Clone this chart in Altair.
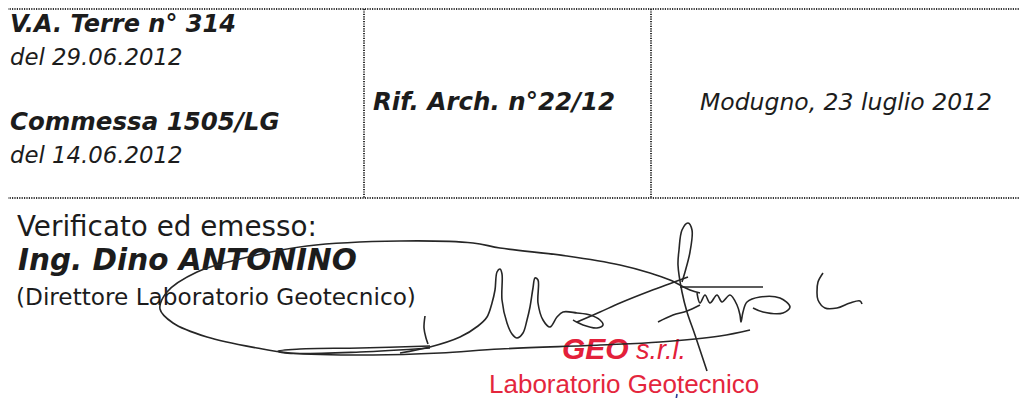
import altair as alt
import pandas as pd

# ---- text content -------------------------------------------------------
texts = [
    "V.A. Terre n° 314",
    "del 29.06.2012",
    "Commessa 1505/LG",
    "del 14.06.2012",
    "Rif. Arch. n°22/12",
    "Modugno, 23 luglio 2012",
    "Verificato ed emesso:",
    "Ing. Dino ANTONINO",
    "(Direttore Laboratorio Geotecnico)",
    "GEO",
    "s.r.l.",
    "Laboratorio Geotecnico",
]
# layout (page pixel positions: left edge, baseline)
text_x = [10, 10, 10, 10, 373, 700, 17, 18, 16, 562, 636, 489]
text_y = [32, 65, 130, 163, 110, 110, 236, 270, 305, 359, 359, 393]
text_size = [24, 22.8, 24.5, 22.8, 24.5, 23.5, 27.8, 29.5, 23.2, 30, 27, 26]
text_weight = ["bold", "normal", "bold", "normal", "bold", "normal",
               "normal", "bold", "normal", "bold", "normal", "normal"]
text_style = ["italic", "italic", "italic", "italic", "italic", "italic",
              "normal", "italic", "normal", "italic", "italic", "normal"]
text_font = ["DejaVu Sans"] * 9 + ["Liberation Sans"] * 3
text_color = ["#1c1c1c"] * 9 + ["#e3203a", "#e3203a", "#e4263d"]

# ---- dotted table lines -------------------------------------------------
line_x = [0, 0, 364, 651]
line_x2 = [1028, 1028, 364, 651]
line_y = [9, 198, 9, 9]
line_y2 = [9, 198, 198, 198]

# ---- signature strokes (traced) -----------------------------------------
strokes = {
    "loop": [(700, 293), (690, 290), (670, 280), (650, 273), (620, 265), (567, 256),
             (500, 248), (473, 243), (400, 241), (307, 246), (240, 259), (197, 272),
             (167, 292), (160, 309), (173, 323), (207, 337), (257, 348), (290, 353),
             (373, 355), (440, 353), (500, 349), (600, 345), (660, 342), (720, 336),
             (750, 330)],
    "top": [(680, 287), (720, 287), (763, 287)],
    "flat": [(430, 346), (360, 348), (300, 349), (278, 351), (285, 353), (360, 352),
             (430, 348)],
    "paren": [(425, 316), (424, 328), (426, 338), (428, 344)],
    "mo": [(400, 353), (430, 347), (460, 337), (478, 326), (487, 317), (492, 303),
           (495, 290), (497, 272), (500, 269), (502, 274), (502, 300), (507, 323),
           (512, 334), (517, 338), (523, 333), (527, 320), (530, 307), (533, 288),
           (535, 278), (538, 280), (538, 303), (543, 320), (550, 327), (557, 317),
           (563, 312), (577, 313), (590, 315), (600, 320), (603, 325), (597, 328),
           (583, 325), (573, 320)],
    "diag": [(577, 322), (600, 312), (620, 303), (650, 291), (688, 277)],
    "f": [(682, 282), (685, 272), (690, 252), (692, 230), (688, 223), (682, 230),
          (679, 250), (678, 265), (682, 292), (687, 312), (695, 335), (707, 371)],
    "bar": [(658, 322), (673, 315), (687, 311), (700, 305)],
    "uro": [(697, 293), (700, 303), (705, 295), (710, 303), (717, 295), (722, 302),
            (730, 295), (737, 305), (740, 315), (741, 322), (743, 312), (747, 302),
            (760, 297), (780, 298), (790, 307), (783, 313), (763, 312), (753, 308)],
    "L": [(823, 273), (818, 282), (817, 292), (818, 300), (825, 308), (837, 308),
          (850, 303), (860, 301), (862, 304)],
    "tick": [(677, 394), (675, 406)],
}
sig_stroke, sig_x, sig_y = [], [], []
for name, pts in strokes.items():
    for (px, py) in pts:
        sig_stroke.append(name)
        sig_x.append(px)
        sig_y.append(py)

# ---- scales mapping page pixels (page has an 8px margin) ---------------
W, H = 1012, 390
xs = alt.Scale(domain=[8, 1020], nice=False, zero=False)
ys = alt.Scale(domain=[8, 398], nice=False, zero=False, reverse=True)

layers = []

lines_df = pd.DataFrame({"x": line_x, "x2": line_x2, "y": line_y, "y2": line_y2})
layers.append(
    alt.Chart(lines_df).mark_rule(color="#333333", strokeWidth=2, strokeDash=[1.2, 1.2]).encode(
        x=alt.X("x:Q", scale=xs, axis=None),
        x2="x2:Q",
        y=alt.Y("y:Q", scale=ys, axis=None),
        y2="y2:Q",
    )
)

for i, t in enumerate(texts):
    df = pd.DataFrame({"x": [text_x[i]], "y": [text_y[i]], "t": [t]})
    layers.append(
        alt.Chart(df).mark_text(
            align="left", baseline="alphabetic", font=text_font[i],
            fontSize=text_size[i], fontWeight=text_weight[i], fontStyle=text_style[i],
            color=text_color[i],
        ).encode(
            x=alt.X("x:Q", scale=xs, axis=None),
            y=alt.Y("y:Q", scale=ys, axis=None),
            text="t:N",
        )
    )

sig_df = pd.DataFrame({"stroke": sig_stroke, "x": sig_x, "y": sig_y})
sig_df["order"] = range(len(sig_df))
sig_df["col"] = ["tick" if s == "tick" else "ink" for s in sig_stroke]
layers.append(
    alt.Chart(sig_df).mark_line(strokeWidth=1.6, interpolate="catmull-rom").encode(
        x=alt.X("x:Q", scale=xs, axis=None),
        y=alt.Y("y:Q", scale=ys, axis=None),
        detail="stroke:N",
        order="order:Q",
        color=alt.Color("col:N", scale=alt.Scale(domain=["ink", "tick"], range=["#262626", "#2b3a9a"]), legend=None),
    )
)

chart = alt.layer(*layers).properties(
    width=W, height=H, padding=0, background="white",
    autosize=alt.AutoSizeParams(type="none"),
).configure_view(stroke=None)

chart.save("out.html", embed_options={"renderer": "svg", "actions": False})
